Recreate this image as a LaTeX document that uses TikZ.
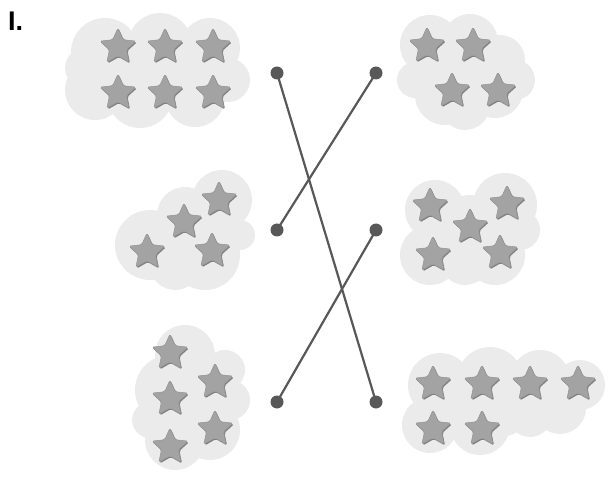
\documentclass[tikz,border=0pt]{standalone}
\usepackage{fontspec}
\setmainfont{Liberation Sans}
\begin{document}
\begin{tikzpicture}[x=1pt,y=-1pt,
  cloudfill/.style={fill=cloudgray},
  dotnode/.style={circle,fill=linegray,inner sep=0pt,minimum size=13pt},
  link/.style={draw=linegray,line width=2.2pt},
  pics/mystar/.style={code={
    \begin{scope}[yscale=-1]
      \fill[stardark,rounded corners=1.6pt,shift={(0.9,-1.1)}]
        (90:19) -- (126:9) -- (162:19) -- (198:9) -- (234:19) -- (270:9) -- (306:19) -- (342:9) -- (18:19) -- (54:9) -- cycle;
      \fill[starfill,draw=staredge,line width=0.5pt,rounded corners=1.6pt]
        (90:19) -- (126:9) -- (162:19) -- (198:9) -- (234:19) -- (270:9) -- (306:19) -- (342:9) -- (18:19) -- (54:9) -- cycle;
    \end{scope}
  }}]
\definecolor{cloudgray}{HTML}{EBEBEB}
\definecolor{linegray}{HTML}{585858}
\definecolor{starfill}{HTML}{A3A3A3}
\definecolor{staredge}{HTML}{939393}
\definecolor{stardark}{HTML}{7E7E7E}
\useasboundingbox (0,0) rectangle (608,481);

\node[anchor=base west,font=\bfseries\fontsize{27}{27}\selectfont,inner sep=0pt] (lbl) at (8,31) {I.};

% clouds (each one path, union of circles)
\fill[cloudfill] \foreach \x/\y/\r in {105/52/34,160/45/32,210/48/30,95/90/30,140/95/33,195/97/30,228/80/22,85/68/20,160/70/38}
  {(\x,\y) circle (\r)};
\fill[cloudfill] \foreach \x/\y/\r in {430/45/30,470/42/28,500/60/25,415/80/18,445/95/30,495/90/28,515/80/20,465/105/25,465/70/32}
  {(\x,\y) circle (\r)};
\fill[cloudfill] \foreach \x/\y/\r in {222/200/30,185/215/28,150/245/35,205/255/35,175/265/25,240/235/15,195/235/32}
  {(\x,\y) circle (\r)};
\fill[cloudfill] \foreach \x/\y/\r in {435/210/30,505/205/32,470/225/30,430/255/30,495/255/30,465/260/25,520/230/20,470/240/36}
  {(\x,\y) circle (\r)};
\fill[cloudfill] \foreach \x/\y/\r in {185/355/30,170/390/35,200/400/40,175/440/30,210/430/30,225/370/20,150/420/18,230/400/20,190/400/36}
  {(\x,\y) circle (\r)};
\fill[cloudfill] \foreach \x/\y/\r in {440/385/32,490/380/33,540/380/30,580/385/25,430/425/28,480/425/30,530/415/22,460/410/30,500/405/32,560/408/26}
  {(\x,\y) circle (\r)};

% stars
\foreach \x/\y in {118/47,165/47,213/47,118/93,165/93,213/93,
                   427/46,473/46,452/91,498/91,
                   219/200,184/222,147/252,212/251,
                   430/206,470/227,507/204,433/255,500/253,
                   170/353,215/382,170/399,215/429,170/447,
                   433/384,482/384,530/384,578/384,433/429,482/429}
  \pic at (\x,\y) {mystar};

% dots
\node[dotnode] (l1) at (277,73) {};
\node[dotnode] (l2) at (277,230) {};
\node[dotnode] (l3) at (277,402) {};
\node[dotnode] (r1) at (376,73) {};
\node[dotnode] (r2) at (376,230) {};
\node[dotnode] (r3) at (376,402) {};

\draw[link] (l1.center) -- (r3.center);
\draw[link] (l2.center) -- (r1.center);
\draw[link] (l3.center) -- (r2.center);
\end{tikzpicture}
\end{document}
